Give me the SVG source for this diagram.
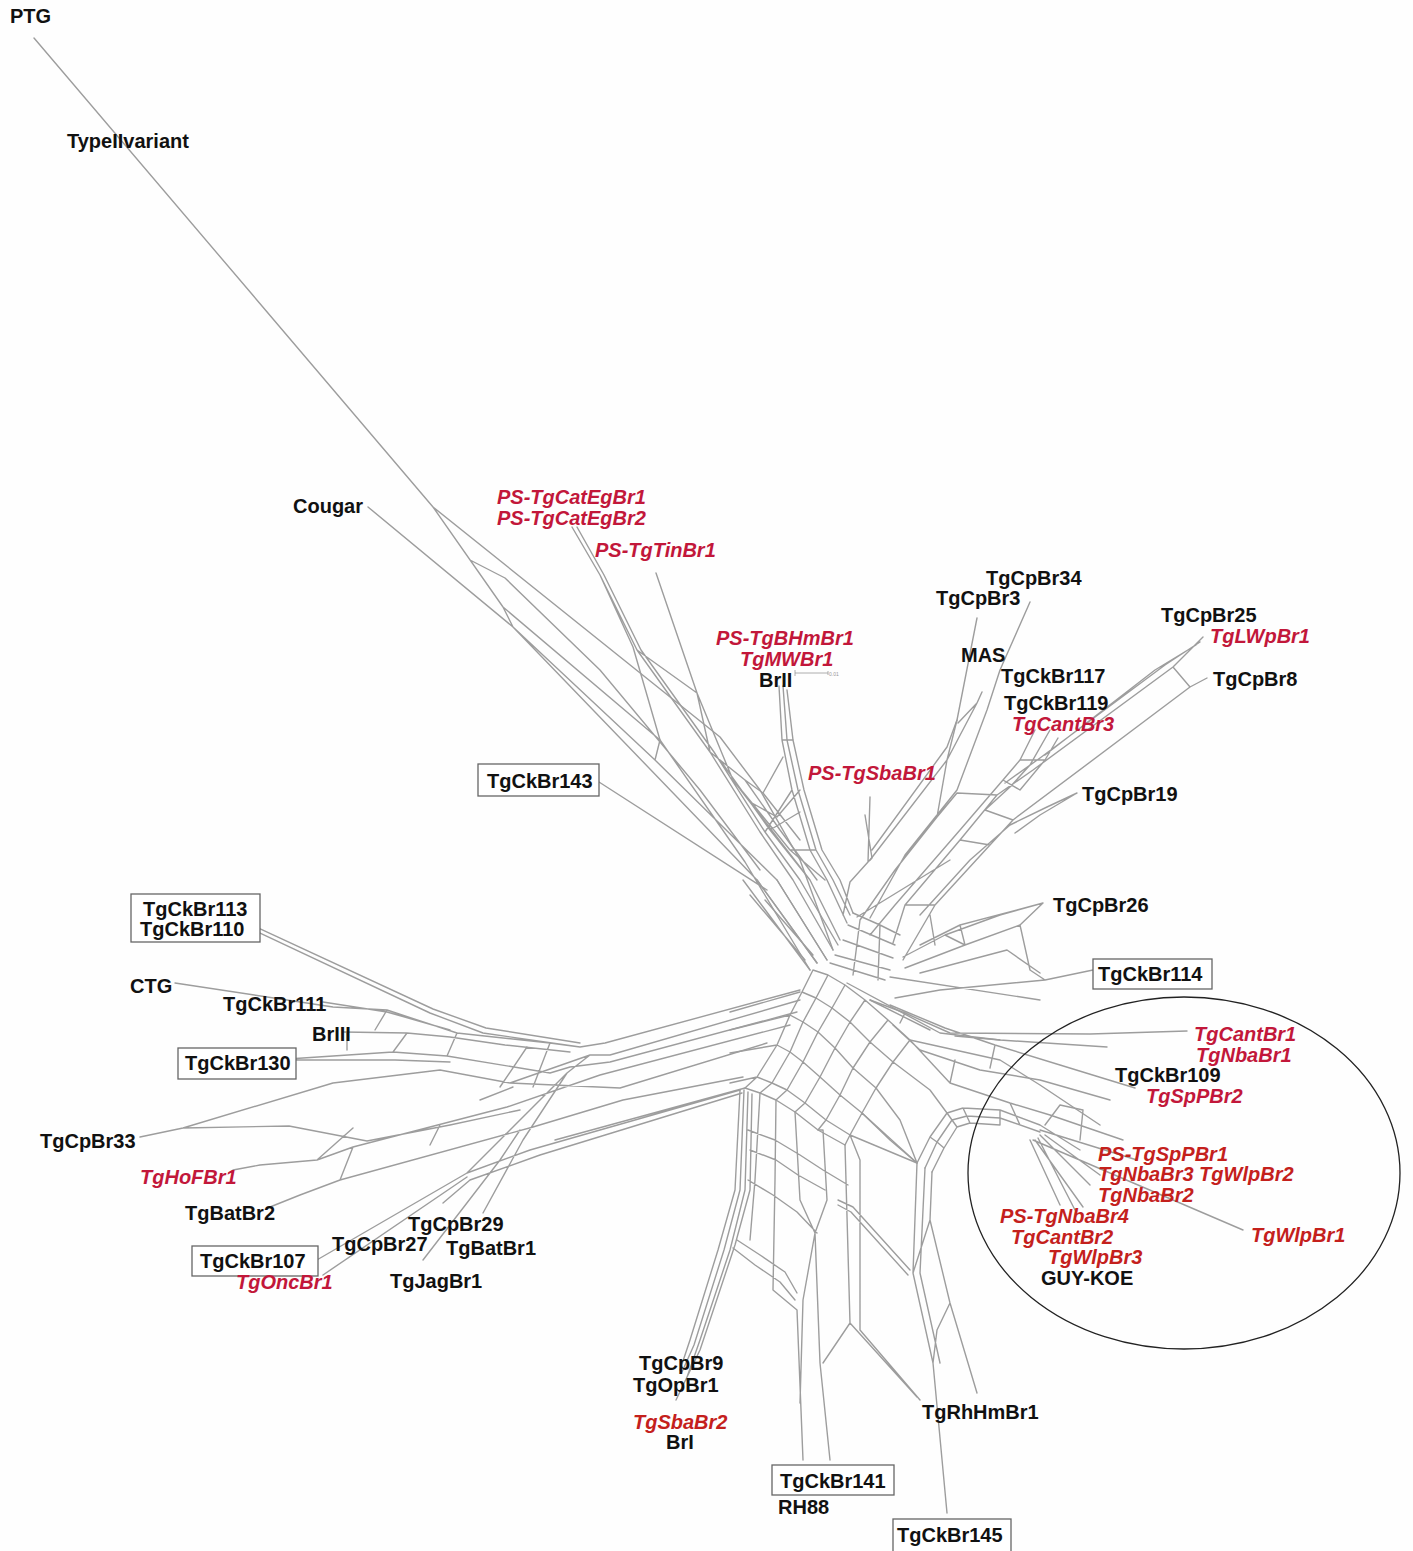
<svg xmlns="http://www.w3.org/2000/svg" width="1413" height="1551" viewBox="0 0 1413 1551">
<style>
.net{fill:none;stroke:#9d9d9d;stroke-width:1.4;stroke-linejoin:round;stroke-linecap:round}
.t{font-family:"Liberation Sans",Arial,sans-serif;font-weight:bold;font-size:20px;fill:#111}
.r{font-style:italic;fill:#c2173a}
.o{font-style:italic;fill:#c4201c}
.box{fill:#fff;stroke:#666;stroke-width:1.3}
</style>
<rect width="1413" height="1551" fill="#fefefe"/>
<g id="connectors">
<path class="net" id="branch-upperleft" d="M34,38 L433,507
M433,507 L503,607 L660,740 L745,862 L810,970
M433,507 L720,737 L760,790 L800,860 L833,950
M368,507 L513,627 L757,880 L817,963
M503,607 L513,627
M513,627 L655,760 L777,880 L827,960
M599,782 L767,890
M660,740 L655,760
M470,560 L505,578 L600,670 L700,790 L760,870"/>
<path class="net" id="branch-upper" d="M572,527 L600,575 L637,650 L710,752 L760,832 L793,880 L833,950
M577,527 L604,575 L641,650 L714,752 L765,832 L800,880 L838,945
M600,575 L633,647 L660,740
M637,650 L697,693
M656,573 L697,693 L733,780 L810,880 L840,940
M697,693 L710,752
M710,752 L745,780 L763,793 L783,757
M733,780 L752,803 L777,817 L800,790
M779,686 L782,740 L792,790 L810,850 L827,880 L847,923
M783,686 L787,740 L798,790 L816,850 L833,880 L850,915
M787,690 L793,740 L804,790 L822,850 L840,880 L853,913
M782,740 L793,740
M765,832 L792,790
M720,760 L770,830 L810,880
M745,780 L780,830 L817,880
M752,803 L790,850 L825,880
M763,793 L800,840
M770,830 L800,812
M790,850 L816,850
M743,880 L810,970 M757,880 L817,963 M777,880 L827,960 M793,880 L833,950
M750,895 L805,960 M765,900 L813,955
M870,797 L868,862 L850,882 L843,915
M865,815 L872,858 L868,862
M872,850 L947,747 L957,720"/>
<path class="net" id="branch-upperright" d="M977,618 L957,720 L947,760 L937,817 L895,870 L860,920
M1030,602 L1000,670 L987,710 L957,790 L905,855 L870,918
M982,692 L977,703 L958,723
M977,703 L947,760
M947,760 L870,860
M937,817 L957,793 L997,795
M1035,730 L1020,760 L1003,780 L960,830 L895,905 L870,935
M1050,730 L1030,765 L1010,787 L985,810
M1058,738 L1045,760 L1020,790
M1020,760 L1045,760
M1003,780 L1020,790
M1203,637 L1187,653 L1173,667 L1033,770 L997,795 L960,840 L905,905 L893,943
M1200,642 L1165,665 L1040,758 L1005,783
M1196,645 L1155,670 L1045,755
M1207,678 L1190,687 L1013,820 L990,845 L935,905 L903,960
M1173,667 L1190,687
M1077,793 L1047,807 L1010,825 L970,860 L920,915
M1077,793 L1040,815 L1015,833
M985,810 L1013,820
M960,840 L990,845
M905,905 L935,905
M950,860 L857,917
M1043,903 L1020,925 L965,945 L905,968
M1043,903 L1000,915 L945,935 L903,957
M1043,903 L960,925 L920,945
M1020,925 L1030,970 L1045,980
M1093,970 L1045,980 L940,990 L895,998
M1040,973 L1007,950 L920,973
M965,945 L945,935
M930,915 L935,945 M960,925 L965,945
M853,913 L880,925 L900,935
M848,925 L895,945
M843,940 L893,958
M835,955 L890,970
M830,963 L885,980
M880,925 L878,980
M860,920 L853,975
M890,977 L1040,1000"/>
<path class="net" id="branch-right" d="M1187,1031 L1090,1034 L950,1033 L905,1013 L870,1000
M1107,1047 L1000,1040 L955,1036
M1135,1088 L1060,1065 L995,1045 L945,1028 L890,1005
M1123,1140 L1050,1115 L1010,1103 L950,1083 L910,1040
M1110,1100 L1040,1080 L980,1070 L920,1050 L893,1025
M950,1083 L955,1060 M905,1013 L900,1023 M995,1045 L990,1068
M917,1163 L930,1137 L947,1113 L963,1108 L1000,1110 L1040,1125 L1080,1150
M925,1168 L937,1142 L952,1120 L967,1116 L1000,1118 L1040,1132
M932,1172 L944,1148 L957,1127 L970,1123 L1000,1125
M930,1137 L937,1142 L944,1148 M947,1113 L952,1120 L957,1127 M963,1108 L970,1123 M1000,1110 L1000,1125
M1033,1140 L1243,1230
M1040,1130 L1137,1160
M1040,1135 L1090,1185
M1035,1140 L1083,1207
M1030,1140 L1060,1205
M1038,1138 L1075,1210
M1045,1135 L1100,1175
M1045,1125 L1060,1105 L1083,1110 L1080,1140
M1010,1103 L1020,1125"/>
<path class="net" id="hub-mesh" d="M813,970 L802,992 L790,1015 L777,1045 L757,1077 L745,1088
M828,975 L816,998 L803,1022 L790,1052 L772,1083 L760,1093
M845,985 L832,1008 L818,1032 L803,1062 L787,1090 L776,1100
M865,1000 L850,1022 L835,1048 L820,1077 L805,1103 L795,1112
M888,1020 L870,1042 L853,1068 L840,1095 L826,1120 L818,1130
M910,1040 L893,1062 L876,1088 L862,1113 L850,1135 L845,1145
M813,970 L828,975 L845,985 L865,1000 L888,1020 L910,1040 L1000,1060 L1040,1085 L1100,1125
M802,992 L816,998 L832,1008 L850,1022 L870,1042 L893,1062 L930,1090 L947,1113
M790,1015 L803,1022 L818,1032 L835,1048 L853,1068 L876,1088 L900,1120 L917,1163
M777,1045 L790,1052 L803,1062 L820,1077 L840,1095 L862,1113 L890,1140 L917,1163
M757,1077 L772,1083 L787,1090 L805,1103 L826,1120 L850,1135
M745,1088 L760,1093 L776,1100 L795,1112 L818,1130 L845,1145
M730,1012 L800,992 M730,1030 L790,1015 M730,1053 L777,1045 M730,1083 L757,1077
M847,983 L940,1033 L1000,1040
M870,1000 L930,1030"/>
<path class="net" id="branch-bottom" d="M740,1090 L735,1190 L718,1250 L690,1340 L680,1370
M744,1090 L740,1190 L724,1250 L694,1345 L682,1372
M748,1092 L745,1190 L730,1250 L700,1340 L686,1380
M752,1094 L750,1190 L735,1245 L700,1350 L676,1400
M760,1093 L755,1180 L750,1240
M737,1240 L760,1255 L785,1272 L797,1293
M733,1248 L755,1265 L780,1282 L795,1300
M776,1100 L775,1180 L773,1290 L797,1310 L803,1460
M795,1112 L800,1200 L815,1233
M818,1130 L823,1130 L827,1200 L815,1233 L820,1363 L830,1460
M815,1233 L803,1300 L800,1403
M845,1145 L850,1323
M850,1135 L860,1160 L860,1330
M748,1130 L775,1140 L800,1155 L823,1170 L848,1185
M748,1180 L773,1195 L797,1212 L817,1233
M750,1150 L776,1160 L798,1175 L825,1190
M838,1200 L853,1207 L910,1270
M838,1205 L851,1212 L908,1275
M850,1323 L823,1363
M850,1323 L917,1397
M860,1330 L920,1400
M917,1163 L913,1273 L933,1363 L947,1513
M925,1168 L920,1273 L940,1363
M932,1172 L930,1220 L950,1303 L977,1393
M950,1303 L937,1330 L933,1363
M913,1273 L930,1220
M850,1135 L917,1163
M862,1113 L917,1163"/>
<path class="net" id="branch-left" d="M580,1047 L605,1043 L800,990
M590,1055 L610,1055 L800,1000
M570,1067 L610,1062 L797,1012
M600,1075 L790,1025
M510,1083 L620,1088 L767,1043
M533,1127 L623,1100 L743,1077
M467,1173 L530,1150 L740,1090
M470,1180 L540,1155 L742,1093
M555,1140 L745,1088
M247,927 L430,1013 L483,1033 L580,1047
M252,925 L433,1009 L486,1028 L580,1043
M175,983 L333,1007 L387,1010 L457,1033 L550,1043 L580,1047
M323,1002 L387,1012 L450,1030
M343,1032 L407,1033 L450,1037 L505,1045 L570,1052
M288,1059 L393,1052 L447,1056 L550,1073 L570,1067
M288,1060 L395,1060 L450,1062
M140,1137 L183,1128 L333,1083 L440,1070 L510,1083 L590,1055
M183,1128 L289,1126 L367,1141 L450,1125 L520,1110
M233,1170 L260,1165 L317,1160 L353,1147 L507,1107 L600,1075
M270,1207 L300,1195 L340,1180 L533,1127 L623,1100
M303,1268 L467,1173
M323,1275 L467,1177
M443,1203 L470,1180
M483,1213 L523,1140 L567,1073
M423,1260 L500,1160 L520,1130
M467,1173 L567,1073 L590,1055
M347,1033 L347,1050 M387,1010 L375,1030 M407,1033 L393,1052 M457,1033 L447,1056
M527,1047 L500,1087 M550,1043 L533,1087 M513,1087 L480,1100
M353,1128 L317,1160 M353,1147 L340,1180 M440,1125 L430,1145"/>
<g id="scale-bar">
<path d="M795,673 L828,673 M795,670 L795,676 M828,671 L828,675" fill="none" stroke="#999" stroke-width="0.8"/>
<text x="829" y="676" font-family="Liberation Sans,Arial,sans-serif" font-size="5" fill="#999">0.01</text>
</g>
</g>
<ellipse id="cluster-ellipse" cx="1184" cy="1173" rx="216" ry="176" fill="none" stroke="#222" stroke-width="1.3"/>
<g id="n-PTG"><text class="t" x="10" y="23">PTG</text></g>
<g id="n-TypeIIvariant"><text class="t" x="67" y="148">TypeIIvariant</text></g>
<g id="n-Cougar"><text class="t" x="293" y="513">Cougar</text></g>
<g id="n-PS-TgCatEgBr"><text class="t r" x="497" y="504">PS-TgCatEgBr1</text><text class="t r" x="497" y="525">PS-TgCatEgBr2</text></g>
<g id="n-PS-TgTinBr1"><text class="t r" x="595" y="557">PS-TgTinBr1</text></g>
<g id="n-BrII"><text class="t r" x="716" y="645">PS-TgBHmBr1</text><text class="t r" x="740" y="666">TgMWBr1</text><text class="t" x="759" y="687">BrII</text></g>
<g id="n-PS-TgSbaBr1"><text class="t r" x="808" y="780">PS-TgSbaBr1</text></g>
<g id="n-TgCkBr143"><rect class="box" x="478" y="764" width="121" height="32"/><text class="t" x="487" y="788">TgCkBr143</text></g>
<g id="n-TgCpBr34"><text class="t" x="986" y="585">TgCpBr34</text></g>
<g id="n-TgCpBr3"><text class="t" x="936" y="605">TgCpBr3</text></g>
<g id="n-MAS"><text class="t" x="961" y="662">MAS</text></g>
<g id="n-TgCkBr117"><text class="t" x="1001" y="683">TgCkBr117</text></g>
<g id="n-TgCkBr119"><text class="t" x="1004" y="710">TgCkBr119</text><text class="t r" x="1012" y="731">TgCantBr3</text></g>
<g id="n-TgCpBr25"><text class="t" x="1161" y="622">TgCpBr25</text><text class="t r" x="1210" y="643">TgLWpBr1</text></g>
<g id="n-TgCpBr8"><text class="t" x="1213" y="686">TgCpBr8</text></g>
<g id="n-TgCpBr19"><text class="t" x="1082" y="801">TgCpBr19</text></g>
<g id="n-TgCpBr26"><text class="t" x="1053" y="912">TgCpBr26</text></g>
<g id="n-TgCkBr114"><rect class="box" x="1093" y="959" width="119" height="30"/><text class="t" x="1098" y="981">TgCkBr114</text></g>
<g id="n-TgCantBr1"><text class="t r" x="1194" y="1041">TgCantBr1</text><text class="t r" x="1196" y="1062">TgNbaBr1</text></g>
<g id="n-TgCkBr109"><text class="t" x="1115" y="1082">TgCkBr109</text><text class="t r" x="1146" y="1103">TgSpPBr2</text></g>
<g id="n-PS-TgSpPBr1"><text class="t o" x="1098" y="1161">PS-TgSpPBr1</text><text class="t o" x="1098" y="1181">TgNbaBr3 TgWlpBr2</text><text class="t o" x="1098" y="1202">TgNbaBr2</text></g>
<g id="n-PS-TgNbaBr4"><text class="t o" x="1000" y="1223">PS-TgNbaBr4</text><text class="t o" x="1011" y="1244">TgCantBr2</text><text class="t o" x="1048" y="1264">TgWlpBr3</text><text class="t" x="1041" y="1285">GUY-KOE</text></g>
<g id="n-TgWlpBr1"><text class="t o" x="1251" y="1242">TgWlpBr1</text></g>
<g id="n-TgRhHmBr1"><text class="t" x="922" y="1419">TgRhHmBr1</text></g>
<g id="n-TgCkBr141"><rect class="box" x="772" y="1465" width="122" height="30"/><text class="t" x="780" y="1488">TgCkBr141</text><text class="t" x="778" y="1514">RH88</text></g>
<g id="n-TgCkBr145"><rect class="box" x="893" y="1519" width="118" height="34"/><text class="t" x="897" y="1542">TgCkBr145</text></g>
<g id="n-TgCpBr9"><text class="t" x="639" y="1370">TgCpBr9</text><text class="t" x="633" y="1392">TgOpBr1</text><text class="t o" x="633" y="1429">TgSbaBr2</text><text class="t" x="666" y="1449">BrI</text></g>
<g id="n-TgCkBr113"><rect class="box" x="131" y="894" width="129" height="48"/><text class="t" x="143" y="916">TgCkBr113</text><text class="t" x="140" y="936">TgCkBr110</text></g>
<g id="n-CTG"><text class="t" x="130" y="993">CTG</text></g>
<g id="n-TgCkBr111"><text class="t" x="223" y="1011">TgCkBr111</text></g>
<g id="n-BrIII"><text class="t" x="312" y="1041">BrIII</text></g>
<g id="n-TgCkBr130"><rect class="box" x="178" y="1048" width="118" height="31"/><text class="t" x="185" y="1070">TgCkBr130</text></g>
<g id="n-TgCpBr33"><text class="t" x="40" y="1148">TgCpBr33</text></g>
<g id="n-TgHoFBr1"><text class="t r" x="140" y="1184">TgHoFBr1</text></g>
<g id="n-TgBatBr2"><text class="t" x="185" y="1220">TgBatBr2</text></g>
<g id="n-TgCkBr107"><rect class="box" x="192" y="1246" width="126" height="30"/><text class="t" x="200" y="1268">TgCkBr107</text><text class="t r" x="236" y="1289">TgOncBr1</text></g>
<g id="n-TgCpBr27"><text class="t" x="332" y="1251">TgCpBr27</text></g>
<g id="n-TgCpBr29"><text class="t" x="408" y="1231">TgCpBr29</text></g>
<g id="n-TgBatBr1"><text class="t" x="446" y="1255">TgBatBr1</text></g>
<g id="n-TgJagBr1"><text class="t" x="390" y="1288">TgJagBr1</text></g>
</svg>
